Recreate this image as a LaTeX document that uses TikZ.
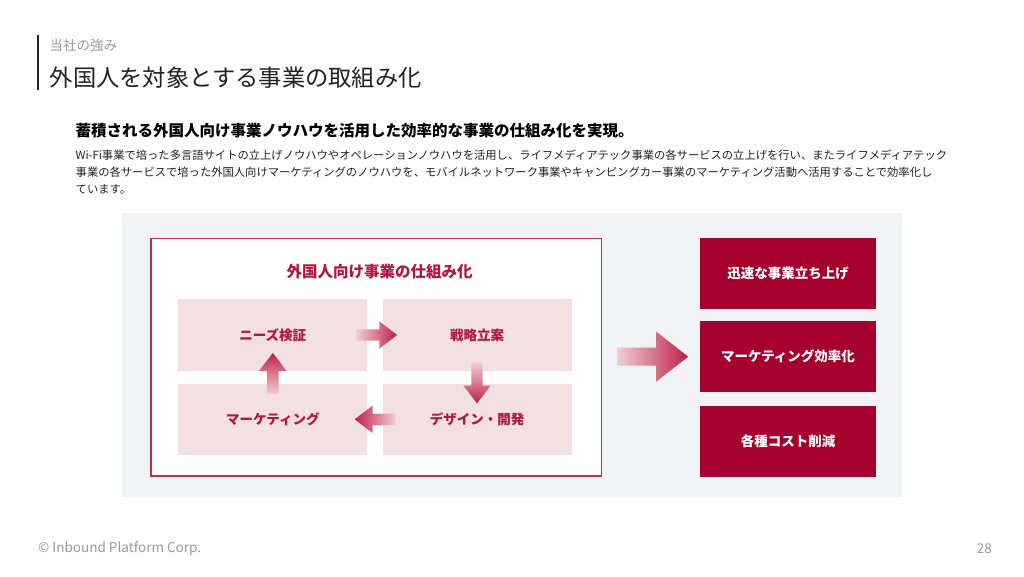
\documentclass[tikz,border=0pt]{standalone}
\usepackage{fontspec}
\setmainfont{Noto Sans CJK JP}
\usepackage{tikz}
\usetikzlibrary{calc,shapes.arrows,positioning}

\definecolor{crimson}{HTML}{A6002E}
\definecolor{rosetext}{HTML}{B3163E}
\definecolor{rosebox}{HTML}{F3E0E2}
\definecolor{rosefade}{HTML}{F2CDD5}
\definecolor{rosedeep}{HTML}{BE2148}
\definecolor{panelgray}{HTML}{F2F3F6}
\definecolor{framered}{HTML}{B8304C}
\definecolor{softgray}{HTML}{9A9A9A}
\definecolor{inkgray}{HTML}{222222}

\tikzset{
  stepbox/.style={fill=rosebox, minimum width=189pt, minimum height=71.5pt, inner sep=0pt,
    text=rosetext, font=\fontsize{13.5}{16}\selectfont\bfseries},
  resultbox/.style={fill=crimson, minimum width=176pt, minimum height=71pt, inner sep=0pt,
    text=white, font=\fontsize{13.5}{16}\selectfont\bfseries},
  flowarrow/.style={single arrow, draw=none, inner sep=5.5pt, minimum height=41pt,
    single arrow head extend=8pt, single arrow tip angle=75, single arrow head indent=0pt},
  bigarrow/.style={single arrow, draw=none, inner sep=8.8pt, minimum height=71pt,
    single arrow head extend=16pt, single arrow tip angle=76, single arrow head indent=0pt,
    left color=rosefade, right color=rosedeep}
}

\begin{document}
\begin{tikzpicture}[x=1pt,y=-1pt,node distance=4cm,on grid]
  \useasboundingbox (0,0) rectangle (1024,576);
  \fill[white] (0,0) rectangle (1024,576);

  % heading
  \draw[line width=1.8pt, inkgray] (38,35) -- (38,90);
  \node[anchor=west, inner sep=0pt, text=softgray, font=\fontsize{13.5}{16}\selectfont] (section) at (49.5,45) {当社の強み};
  \node[anchor=west, inner sep=0pt, text=inkgray, font=\fontsize{23.3}{28}\selectfont] (title) at (49.5,77.5) {外国人を対象とする事業の取組み化};

  \node[anchor=west, inner sep=0pt, font=\fontsize{15.5}{18}\selectfont\bfseries] (lead) at (75.5,131) {蓄積される外国人向け事業ノウハウを活用した効率的な事業の仕組み化を実現。};
  \node[anchor=north west, inner sep=0pt, align=left, text=inkgray, font=\fontsize{11.3}{17}\selectfont] (body) at (75.5,150)
    {Wi-Fi事業で培った多言語サイトの立上げノウハウやオペレーションノウハウを活用し、ライフメディアテック事業の各サービスの立上げを行い、またライフメディアテック\\
     事業の各サービスで培った外国人向けマーケティングのノウハウを、モバイルネットワーク事業やキャンピングカー事業のマーケティング活動へ活用することで効率化し\\
     ています。};

  % diagram
  \node[anchor=north west, fill=panelgray, minimum width=780.5pt, minimum height=284pt, inner sep=0pt] (panel) at (121.5,213) {};
  \node[anchor=north west, fill=white, draw=framered, line width=1.6pt, minimum width=450.5pt, minimum height=237.5pt, inner sep=0pt] (frame) at (150,237.5) {};
  \node[text=rosetext, font=\fontsize{15.5}{18}\selectfont\bfseries] (frametitle) at (379.5,271.5) {外国人向け事業の仕組み化};

  \node[stepbox] (needs) at (272.8,335) {ニーズ検証};
  \node[stepbox] (plan) [right=204.2pt of needs] {戦略立案};
  \node[stepbox] (design) [below=84.3pt of plan] {デザイン・開発};
  \node[stepbox] (marketing) [below=84.3pt of needs] {マーケティング};

  \node[flowarrow, left color=rosefade, right color=rosedeep, xshift=-2pt] (needsplan) at ($(needs.east)!0.5!(plan.west)$) {};
  \node[flowarrow, shape border rotate=270, top color=rosefade, bottom color=rosedeep] (plandesign) at ($(plan.south)!0.5!(design.north)+(0,2)$) {};
  \node[flowarrow, shape border rotate=180, left color=rosedeep, right color=rosefade, xshift=4pt] (designmarketing) at ($(design.west)!0.5!(marketing.east)$) {};
  \node[flowarrow, shape border rotate=90, top color=rosedeep, bottom color=rosefade] (marketingneeds) at ($(marketing.north)!0.5!(needs.south)$) {};

  \node[resultbox] (speed) at (788,273.8) {迅速な事業立ち上げ};
  \node[resultbox] (efficiency) [below=82.4pt of speed] {マーケティング効率化};
  \node[resultbox] (cost) [below=85.5pt of efficiency] {各種コスト削減};

  \node[bigarrow, xshift=-4pt] (outcome) at ($(frame.east)!0.5!(efficiency.west)$) {};

  % footer
  \node[anchor=west, inner sep=0pt, text=softgray, font=\fontsize{13.5}{16}\selectfont] (copyright) at (38,549) {© Inbound Platform Corp.};
  \node[anchor=east, inner sep=0pt, text=softgray, font=\fontsize{13.5}{16}\selectfont] (page) at (992,549) {28};
\end{tikzpicture}
\end{document}
